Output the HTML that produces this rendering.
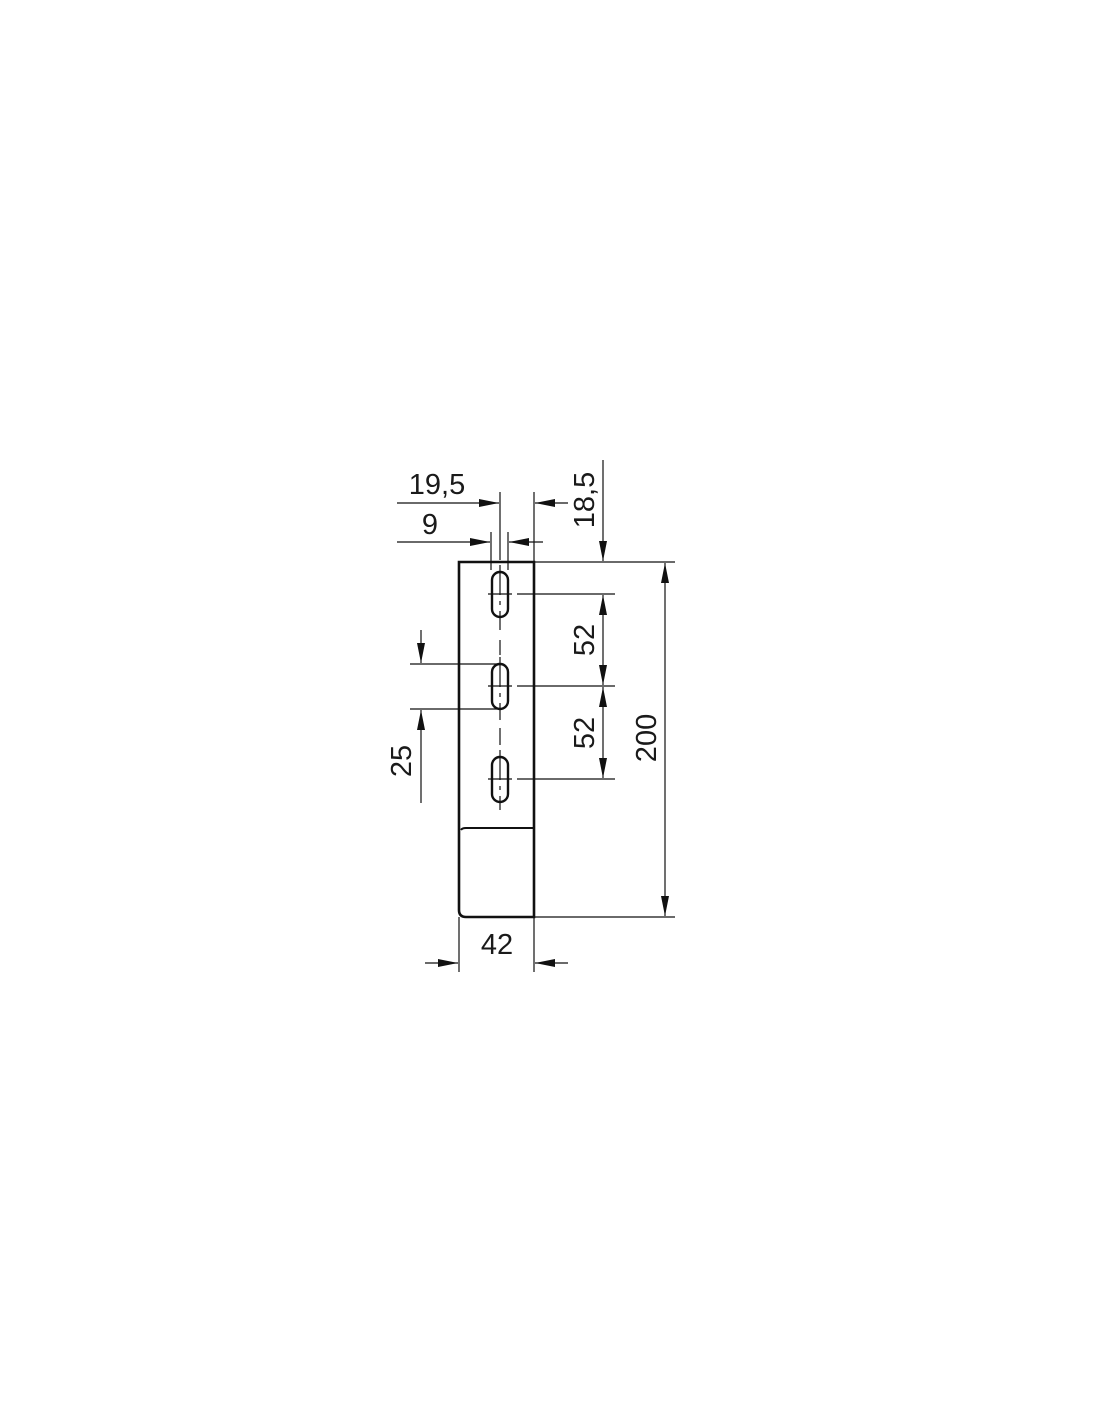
<!DOCTYPE html>
<html><head><meta charset="utf-8"><style>html,body{margin:0;padding:0;background:#fff}svg{display:block}</style></head>
<body>
<svg width="1100" height="1422" viewBox="0 0 1100 1422" xmlns="http://www.w3.org/2000/svg" font-family="Liberation Sans, sans-serif" fill="#1a1a1a">
<defs>
<marker id="a" viewBox="0 0 20 8" refX="20" refY="4" markerWidth="20" markerHeight="8" markerUnits="userSpaceOnUse" orient="auto"><path d="M0,0 L20,4 L0,8 z" fill="#111"/></marker>
</defs>
<g stroke="#111" stroke-width="1.2" fill="none">
<!-- part outline -->
<path d="M459,562 L534,562 L534,917 L466,917 Q459,917 459,910 Z" stroke-width="2.6"/>
<path d="M461,830 Q462,828 466,828 L534,828" stroke-width="2"/>
<!-- slots -->
<rect x="492" y="572" width="16" height="45" rx="8" stroke-width="2.4"/>
<rect x="492" y="664" width="16" height="45" rx="8" stroke-width="2.4"/>
<rect x="492" y="757" width="16" height="45" rx="8" stroke-width="2.4"/>
<!-- center lines -->
<path d="M500,565 V630 M500,640 V655 M500,657 V720 M500,728 V745 M500,750 V810" stroke-dasharray="30,6,4,6"/>
<path d="M488,594 H512 M488,686 H512 M488,779 H512"/>
<!-- extension lines -->
<path d="M517,594 H615 M517,686 H615 M517,779 H615"/>
<path d="M534,562 H675 M534,917 H675"/>
<path d="M500,492 V560 M534,492 V562"/>
<path d="M491,532 V570 M508,532 V570"/>
<path d="M410,664 H497 M410,709 H497"/>
<path d="M459,917 V972 M534,917 V972"/>
<!-- dimension lines -->
<path d="M397,503 H499" marker-end="url(#a)"/>
<path d="M568,503 H535" marker-end="url(#a)"/>
<path d="M397,542 H490" marker-end="url(#a)"/>
<path d="M543,542 H509" marker-end="url(#a)"/>
<path d="M603,460 V561" marker-end="url(#a)"/>
<path d="M603,640 V595" marker-end="url(#a)"/>
<path d="M603,640 V685" marker-end="url(#a)"/>
<path d="M603,732 V687" marker-end="url(#a)"/>
<path d="M603,732 V778" marker-end="url(#a)"/>
<path d="M665,738 V563" marker-end="url(#a)"/>
<path d="M665,738 V916" marker-end="url(#a)"/>
<path d="M421,630 V663" marker-end="url(#a)"/>
<path d="M421,803 V710" marker-end="url(#a)"/>
<path d="M425,963 H458" marker-end="url(#a)"/>
<path d="M568,963 H535" marker-end="url(#a)"/>
</g>
<g font-size="29">
<text x="437" y="494" text-anchor="middle">19,5</text>
<text x="430" y="534" text-anchor="middle">9</text>
<text x="497" y="954" text-anchor="middle">42</text>
<text transform="translate(594,500) rotate(-90)" text-anchor="middle">18,5</text>
<text transform="translate(594,640) rotate(-90)" text-anchor="middle">52</text>
<text transform="translate(594,733) rotate(-90)" text-anchor="middle">52</text>
<text transform="translate(656,738) rotate(-90)" text-anchor="middle">200</text>
<text transform="translate(411,761) rotate(-90)" text-anchor="middle">25</text>
</g>
</svg>
</body></html>
